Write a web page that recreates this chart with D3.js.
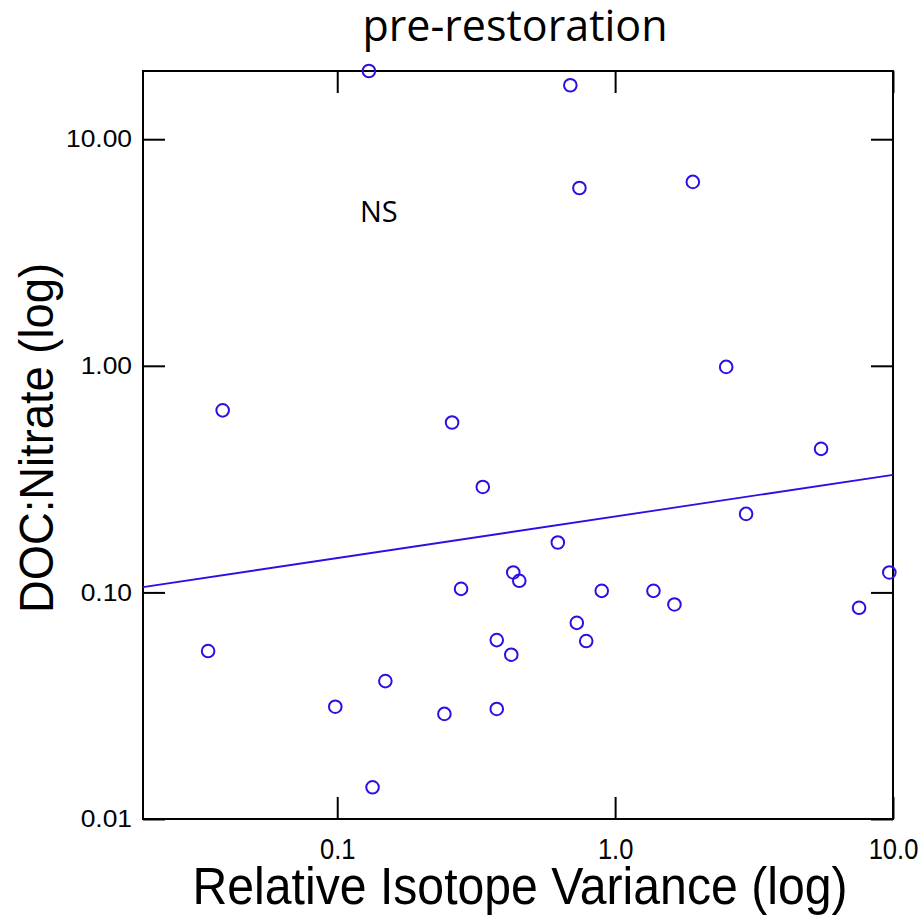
<!DOCTYPE html>
<html>
<head>
<meta charset="utf-8">
<script src="https://cdnjs.cloudflare.com/ajax/libs/d3/7.8.5/d3.min.js"></script>
<style>
  body { margin: 0; background: #fff; }
</style>
</head>
<body>
<div id="scatter"></div>
<script>
// relative isotope variance (x) and DOC:nitrate ratio (y)
var isotopeVar = [0.130, 0.690, 0.744, 1.904, 2.51, 0.0387, 0.259, 5.51, 0.334, 2.96,
    0.622, 0.430, 0.452, 0.279, 0.895, 1.374, 1.635, 9.70, 7.55, 0.728,
    0.375, 0.787, 0.423, 0.0343, 0.149, 0.0984, 0.243, 0.375, 0.134];
var docNitrate = [20.0, 17.3, 6.09, 6.48, 0.989, 0.636, 0.562, 0.430, 0.292, 0.222,
    0.166, 0.1225, 0.1125, 0.1037, 0.1016, 0.1016, 0.0885, 0.1225, 0.0855, 0.0734,
    0.0616, 0.0610, 0.0531, 0.0551, 0.0406, 0.0313, 0.0291, 0.0306, 0.0138];

// fitted line, ends at the plot edges
var fitX = [0.02, 10];
var fitY = [0.1055, 0.330];

var xTicks = [0.1, 1, 10];
var xTickLabels = ["0.1", "1.0", "10.0"];
var yTicks = [0.01, 0.1, 1, 10];
var yTickLabels = ["0.01", "0.10", "1.00", "10.00"];

var margin = { top: 71, right: 31, bottom: 98, left: 143 },
    width = 924 - margin.left - margin.right,
    height = 917 - margin.top - margin.bottom,
    blue = "#2a10e4",
    tickLen = 22;

var svg = d3.select("#scatter").append("svg")
    .attr("width", 924)
    .attr("height", 917)
    .append("g")
    .attr("transform", "translate(" + margin.left + "," + margin.top + ")");

var xScale = d3.scaleLog().domain([0.02, 10]).range([0, width]),
    yScale = d3.scaleLog().domain([0.01, 20]).range([height, 0]);

var points = isotopeVar.map(function (d, i) {
    return { x: d, y: docNitrate[i] };
});

// ticks on all four sides, pointing in
var xAxis = d3.axisBottom(xScale)
    .tickValues(xTicks)
    .tickFormat(function (d, i) { return xTickLabels[i]; })
    .tickSizeInner(-tickLen).tickSizeOuter(0).tickPadding(19);
var yAxis = d3.axisLeft(yScale)
    .tickValues(yTicks)
    .tickFormat(function (d, i) { return yTickLabels[i]; })
    .tickSizeInner(-tickLen).tickSizeOuter(0).tickPadding(11);

var gx = svg.append("g")
    .attr("transform", "translate(0," + height + ")")
    .call(xAxis);
gx.selectAll("text")
    .style("font-family", "'Liberation Sans', Arial, sans-serif")
    .style("font-size", "29px")
    .attr("fill", "#000")
    .attr("transform", "scale(0.88,1)");

var gy = svg.append("g").call(yAxis);
gy.selectAll("text")
    .style("font-family", "'Liberation Sans', Arial, sans-serif")
    .style("font-size", "24px")
    .attr("fill", "#000")
    .attr("x", 0)
    .attr("transform", "translate(-11,0) scale(1.1,1)");

svg.append("g")
    .call(d3.axisTop(xScale).tickValues(xTicks).tickFormat("").tickSizeInner(-tickLen).tickSizeOuter(0));
svg.append("g")
    .attr("transform", "translate(" + width + ",0)")
    .call(d3.axisRight(yScale).tickValues(yTicks).tickFormat("").tickSizeInner(-tickLen).tickSizeOuter(0));

svg.selectAll(".domain").remove();
svg.selectAll(".tick line")
    .attr("stroke", "#000")
    .attr("stroke-width", 2);

svg.append("rect")
    .attr("x", 0)
    .attr("y", 0)
    .attr("width", width)
    .attr("height", height)
    .attr("fill", "none")
    .attr("stroke", "#000")
    .attr("stroke-width", 2);

var line = d3.line()
    .x(function (d) { return xScale(d[0]); })
    .y(function (d) { return yScale(d[1]); });

svg.append("path")
    .datum(fitX.map(function (d, i) { return [d, fitY[i]]; }))
    .attr("d", line)
    .attr("fill", "none")
    .attr("stroke", blue)
    .attr("stroke-width", 1.8);

svg.selectAll(".dot")
    .data(points)
    .enter().append("circle")
    .attr("class", "dot")
    .attr("cx", function (d) { return xScale(d.x); })
    .attr("cy", function (d) { return yScale(d.y); })
    .attr("r", 6.3)
    .attr("fill", "none")
    .attr("stroke", blue)
    .attr("stroke-width", 2);

// titles
svg.append("text")
    .attr("x", width / 2 - 3)
    .attr("y", 41 - margin.top)
    .attr("text-anchor", "middle")
    .style("font-family", "'Open Sans', 'Noto Sans', sans-serif")
    .style("font-size", "43px")
    .text("pre-restoration");

svg.append("text")
    .attr("x", 360 - margin.left)
    .attr("y", 222 - margin.top)
    .style("font-family", "'Open Sans', 'Noto Sans', sans-serif")
    .style("font-size", "29px")
    .text("NS");

svg.append("text")
    .attr("x", width / 2 + 2)
    .attr("y", 904 - margin.top)
    .attr("text-anchor", "middle")
    .attr("textLength", 655)
    .attr("lengthAdjust", "spacingAndGlyphs")
    .style("font-family", "'Liberation Sans', Arial, sans-serif")
    .style("font-size", "51px")
    .text("Relative Isotope Variance (log)");

svg.append("text")
    .attr("transform", "translate(" + (53 - margin.left) + "," + (438 - margin.top) + ") rotate(-90)")
    .attr("text-anchor", "middle")
    .attr("textLength", 350)
    .attr("lengthAdjust", "spacingAndGlyphs")
    .style("font-family", "'Liberation Sans', Arial, sans-serif")
    .style("font-size", "49px")
    .text("DOC:Nitrate (log)");
</script>
</body>
</html>
